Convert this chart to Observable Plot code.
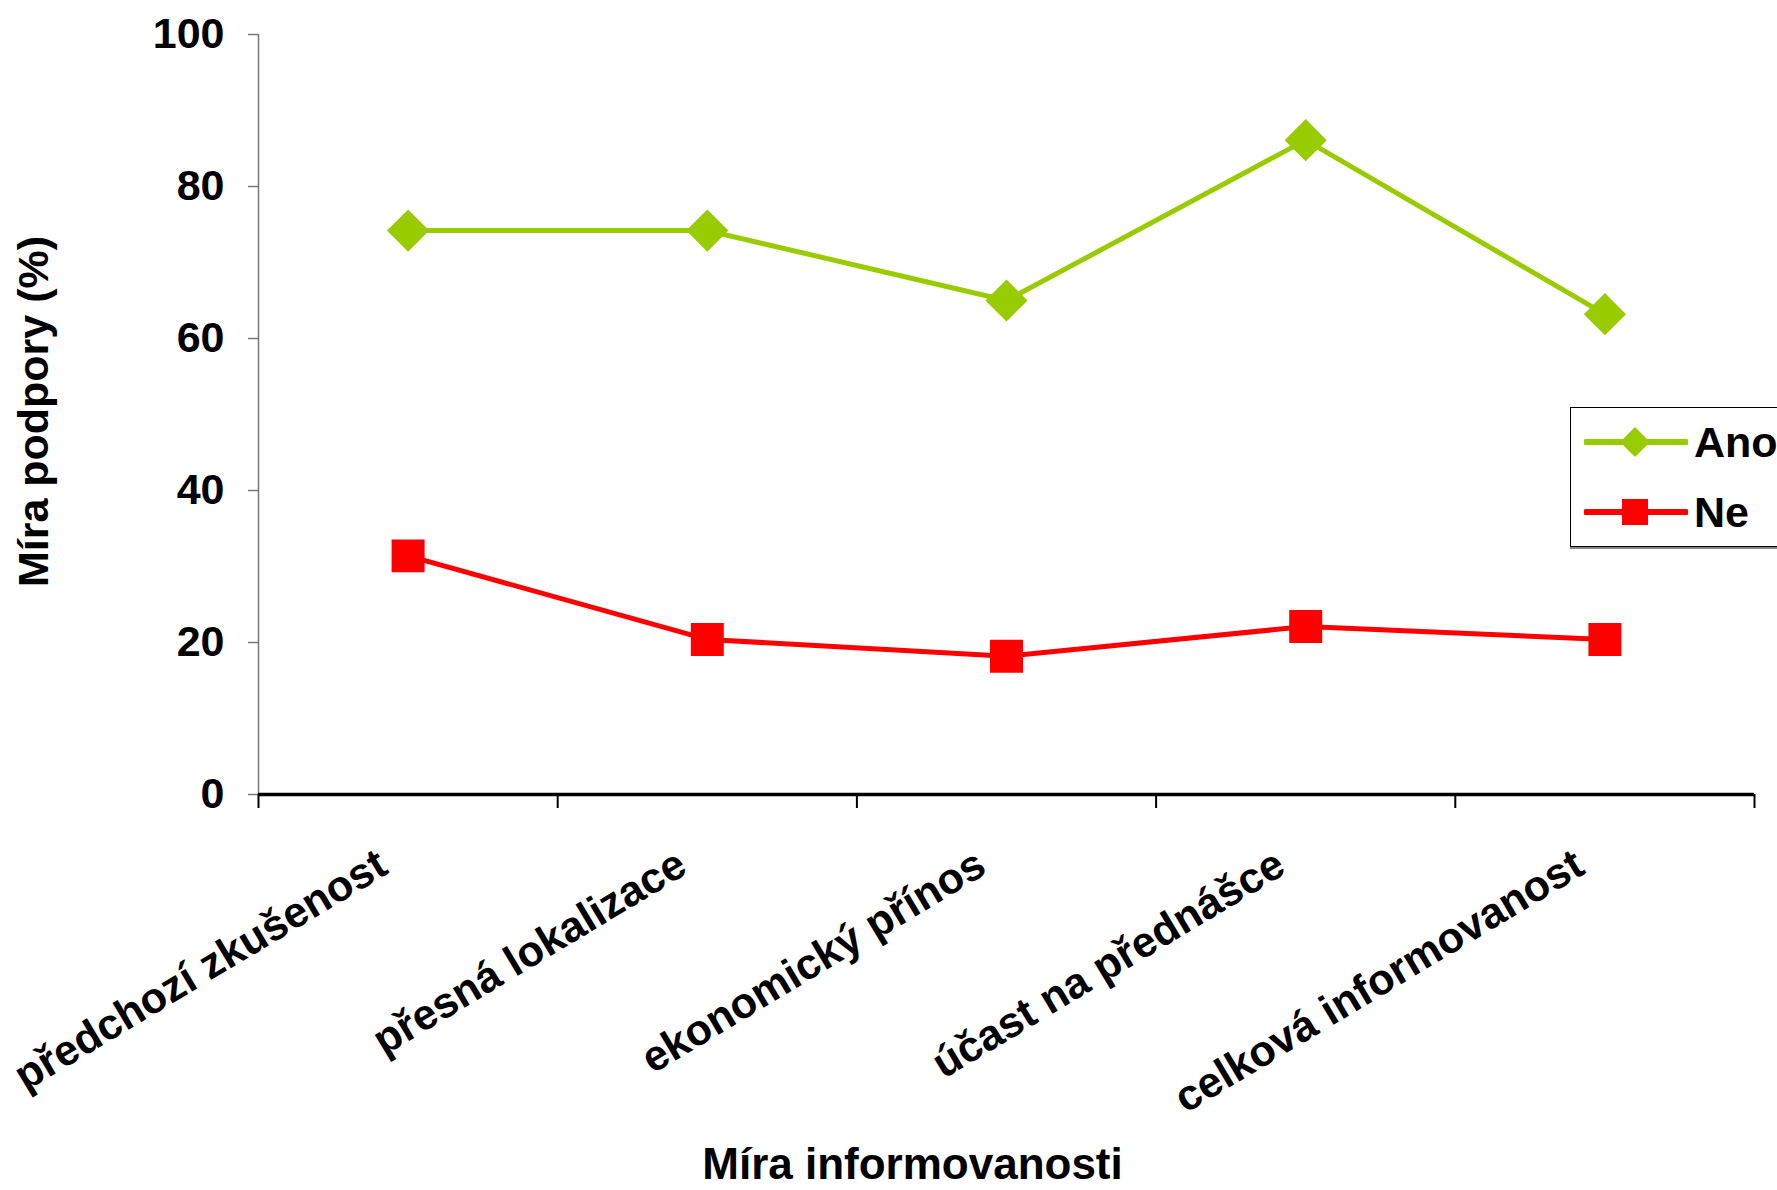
<!DOCTYPE html>
<html><head><meta charset="utf-8">
<script src="https://cdn.jsdelivr.net/npm/d3@7"></script>
<script src="https://cdn.jsdelivr.net/npm/@observablehq/plot@0.6"></script>
<style>
html,body{margin:0;padding:0;background:#fff;}
body{width:1777px;height:1190px;overflow:hidden;font-family:"Liberation Sans",Arial,sans-serif;}
#wrap{position:relative;width:1777px;height:1190px;overflow:hidden;}
#legend{position:absolute;left:1570px;top:407px;width:260px;height:140px;border:1.5px solid #000;box-shadow:0 2px 0 #888;background:#fff;box-sizing:border-box;}
#legend .row{position:absolute;left:0;height:50px;display:flex;align-items:center;}
#legend .lab{font-weight:bold;font-size:43px;color:#000;margin-left:6px;}
</style></head><body><div id="wrap"></div>
<script>
const categories = ["předchozí zkušenost", "přesná lokalizace", "ekonomický přínos", "účast na přednášce", "celková informovanost"];
const ano = [74.2, 74.2, 65.0, 86.1, 63.2];
const ne = [31.4, 20.4, 18.2, 22.1, 20.4];
const yTicks = [0, 20, 40, 60, 80, 100];
const seriesNames = ["Ano", "Ne"];
const seriesColors = ["#99CC00", "#FF0000"];
const seriesSymbols = ["diamond2", "square"];
const yTitle = "Míra podpory (%)";
const xTitle = "Míra informovanosti";

const rows = categories.flatMap((c, i) => [
  {cat: c, pos: i + 0.5, value: ano[i], series: seriesNames[0]},
  {cat: c, pos: i + 0.5, value: ne[i], series: seriesNames[1]}
]);
const catRows = categories.map((c, i) => ({cat: c, pos: i + 0.5}));
const edges = d3.range(categories.length + 1);

const font = "'Liberation Sans', Arial, sans-serif";
const W = 1777, H = 1190;
const mL = 258, mR = 23, mT = 34, mB = 396;

const chart = Plot.plot({
  width: W, height: H,
  marginLeft: mL, marginRight: mR, marginTop: mT, marginBottom: mB,
  style: {fontFamily: font, fontWeight: "bold", background: "#fff", color: "#000", overflow: "visible"},
  x: {domain: [0, categories.length], axis: null},
  y: {domain: [0, 100], axis: null},
  color: {domain: seriesNames, range: seriesColors},
  marks: [
    Plot.axisY({ticks: yTicks, tickSize: 10, tickPadding: 24, fontSize: 43, fontWeight: "bold", stroke: "#777", strokeWidth: 1.5, label: null, tickFormat: d => String(d)}),
    Plot.ruleX([0], {stroke: "#777", strokeWidth: 1.5}),
    Plot.axisX({ticks: edges, tickSize: 14, tickFormat: () => "", stroke: "#000", strokeWidth: 2, label: null}),
    Plot.ruleY([0], {stroke: "#000", strokeWidth: 3.5}),
    Plot.text(catRows, {x: "pos", y: 0, text: "cat", rotate: -31, textAnchor: "end", dx: -18, dy: 78, fontSize: 43, fontWeight: "bold", fill: "#000", lineAnchor: "bottom"}),
    Plot.line(rows, {x: "pos", y: "value", z: "series", stroke: "series", strokeWidth: 5}),
    Plot.dot(rows.filter(d => d.series === seriesNames[0]), {x: "pos", y: "value", symbol: seriesSymbols[0], fill: seriesColors[0], r: 19, stroke: "none"}),
    Plot.dot(rows.filter(d => d.series === seriesNames[1]), {x: "pos", y: "value", symbol: seriesSymbols[1], fill: seriesColors[1], r: 18.6, stroke: "none"}),
    Plot.text([yTitle], {frameAnchor: "left", rotate: -90, textAnchor: "middle", text: d => d, dx: -mL + 34, dy: -3, fontSize: 43, fontWeight: "bold", fill: "#000"}),
    Plot.text([xTitle], {frameAnchor: "bottom", textAnchor: "middle", text: d => d, dx: -94, dy: mB - 12, fontSize: 44, fontWeight: "bold", fill: "#000", lineAnchor: "bottom", letterSpacing: "1.3px"})
  ]
});
document.getElementById("wrap").appendChild(chart);

// Legend
const legend = document.createElement("div");
legend.id = "legend";
seriesNames.forEach((name, k) => {
  const row = document.createElement("div");
  row.className = "row";
  row.style.top = (9 + k * 70) + "px";
  row.style.left = "13px";
  const sym = d3.create("svg").attr("width", 104).attr("height", 50);
  sym.append("line").attr("x1", 2).attr("x2", 102).attr("y1", 25).attr("y2", 25)
    .attr("stroke", seriesColors[k]).attr("stroke-width", 6).attr("stroke-linecap", "round");
  const symType = seriesSymbols[k] === "diamond2" ? d3.symbolDiamond2 : d3.symbolSquare;
  const size = seriesSymbols[k] === "diamond2" ? Math.pow(15 / 0.62625, 2) : Math.pow(26, 2);
  sym.append("path").attr("d", d3.symbol(symType, size)()).attr("transform", "translate(51,25)").attr("fill", seriesColors[k]);
  row.appendChild(sym.node());
  const lab = document.createElement("span");
  lab.className = "lab";
  lab.textContent = name;
  row.appendChild(lab);
  legend.appendChild(row);
});
document.getElementById("wrap").appendChild(legend);
</script>
</body></html>
